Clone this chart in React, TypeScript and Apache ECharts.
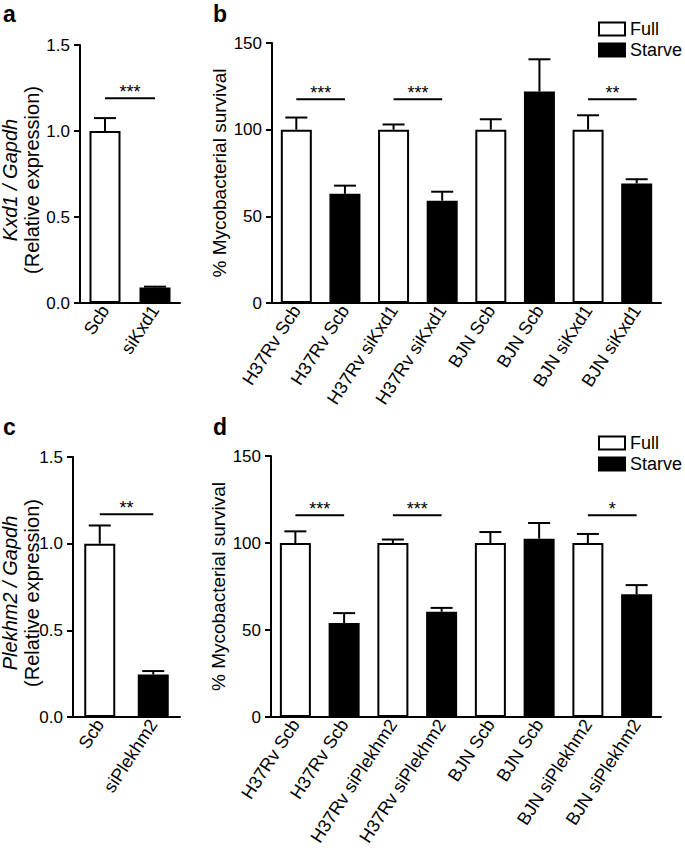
import React, { useEffect, useRef } from "react";
import * as echarts from "echarts";

const FONT = '"Liberation Sans", Arial, Helvetica, sans-serif';

// Panel a: Kxd1 knockdown
const aCategories = ["Scb", "siKxd1"];
const aMeans = [1.0, 0.09];
const aErrors = [0.075, 0.005];
const aFills = ["#ffffff", "#000000"];
const aSig = [[0, 1, 1.19]];
const aSigLabels = ["***"];

// Panel c: Plekhm2 knockdown
const cCategories = ["Scb", "siPlekhm2"];
const cMeans = [1.0, 0.245];
const cErrors = [0.105, 0.02];
const cFills = ["#ffffff", "#000000"];
const cSig = [[0, 1, 1.17]];
const cSigLabels = ["**"];

const expressionTicks = [0, 0.5, 1.0, 1.5];

// Panel b: survival, Kxd1
const bCategories = [
  "H37Rv Scb", "H37Rv Scb", "H37Rv siKxd1", "H37Rv siKxd1",
  "BJN Scb", "BJN Scb", "BJN siKxd1", "BJN siKxd1",
];
const bFull = [100, null, 100, null, 100, null, 100, null];
const bStarve = [null, 63, null, 59, null, 122, null, 69];
const bErrors = [7, 4.7, 3, 5.2, 6, 18.6, 8.3, 2.4];
const bSig = [[0, 1, 117.5], [2, 3, 117.5], [6, 7, 117.5]];
const bSigLabels = ["***", "***", "**"];

// Panel d: survival, Plekhm2
const dCategories = [
  "H37Rv Scb", "H37Rv Scb", "H37Rv siPlekhm2", "H37Rv siPlekhm2",
  "BJN Scb", "BJN Scb", "BJN siPlekhm2", "BJN siPlekhm2",
];
const dFull = [100, null, 100, null, 100, null, 100, null];
const dStarve = [null, 54, null, 60.5, null, 102.5, null, 70.5];
const dErrors = [6.7, 5.7, 2, 2.2, 6.3, 9, 5.2, 5.3];
const dSig = [[0, 1, 116], [2, 3, 116], [6, 7, 116]];
const dSigLabels = ["***", "***", "*"];

const survivalTicks = [0, 50, 100, 150];

const legendNames = ["Full", "Starve"];

function errorSeries(idx: number, means: (number | null)[], errs: number[]) {
  return {
    type: "custom",
    xAxisIndex: idx,
    yAxisIndex: idx,
    z: 5,
    silent: true,
    data: means.map((m, i) => [i, m as number, errs[i]]),
    encode: { x: 0, y: 1 },
    renderItem: (params: any, api: any) => {
      const x = api.value(0);
      const m = api.value(1);
      const e = api.value(2);
      const base = api.coord([x, m]);
      const top = api.coord([x, m + e]);
      return {
        type: "group",
        children: [
          { type: "line", shape: { x1: base[0], y1: base[1], x2: top[0], y2: top[1] }, style: { stroke: "#000", lineWidth: 2 } },
          { type: "line", shape: { x1: top[0] - 11, y1: top[1], x2: top[0] + 11, y2: top[1] }, style: { stroke: "#000", lineWidth: 2 } },
        ],
      };
    },
  };
}

function sigSeries(idx: number, sig: number[][], labels: string[]) {
  return {
    type: "custom",
    xAxisIndex: idx,
    yAxisIndex: idx,
    z: 6,
    silent: true,
    data: sig,
    encode: { x: [0, 1], y: 2 },
    renderItem: (params: any, api: any) => {
      const p1 = api.coord([api.value(0), api.value(2)]);
      const p2 = api.coord([api.value(1), api.value(2)]);
      return {
        type: "group",
        children: [
          { type: "line", shape: { x1: p1[0], y1: p1[1], x2: p2[0], y2: p2[1] }, style: { stroke: "#000", lineWidth: 2 } },
          {
            type: "text",
            x: (p1[0] + p2[0]) / 2,
            y: p1[1] - 6,
            style: { text: labels[params.dataIndex], fill: "#000", fontSize: 18, fontFamily: FONT, align: "center", verticalAlign: "middle" },
          },
        ],
      };
    },
  };
}

function xAxisCfg(idx: number, cats: string[]) {
  return {
    type: "category",
    gridIndex: idx,
    data: cats,
    axisLine: { lineStyle: { color: "#000", width: 2 } },
    axisTick: { alignWithLabel: true, length: 7, lineStyle: { color: "#000", width: 2 } },
    axisLabel: { rotate: 57, interval: 0, margin: 4, color: "#000", fontSize: 18, fontFamily: FONT },
  };
}

function yAxisCfg(idx: number, ticks: number[], decimals: number, name: string, gap: number, fontSize: number, pad: number[]) {
  return {
    type: "value",
    gridIndex: idx,
    min: ticks[0],
    max: ticks[ticks.length - 1],
    interval: ticks[1] - ticks[0],
    name,
    nameLocation: "middle",
    nameGap: gap,
    nameRotate: 90,
    nameMoveOverlap: false,
    nameTextStyle: {
      color: "#000",
      fontSize,
      fontFamily: FONT,
      lineHeight: 22,
      padding: pad,
      rich: { i: { fontStyle: "italic", fontSize, fontFamily: FONT, color: "#000", lineHeight: 22 } },
    },
    axisLine: { show: true, lineStyle: { color: "#000", width: 2 } },
    axisTick: { show: true, length: 6, lineStyle: { color: "#000", width: 2 } },
    splitLine: { show: false },
    axisLabel: { margin: 10, color: "#000", fontSize: 17, fontFamily: FONT, formatter: (v: number) => v.toFixed(decimals) },
  };
}

function simpleBars(idx: number, name: string, means: number[], fills: string[]) {
  return {
    type: "bar",
    name,
    xAxisIndex: idx,
    yAxisIndex: idx,
    barWidth: 31,
    data: means.map((m, i) => ({ value: m, itemStyle: { color: fills[i], borderColor: "#000", borderWidth: 2 } })),
  };
}

function groupBars(idx: number, full: (number | null)[], starve: (number | null)[]) {
  return [
    {
      type: "bar",
      name: legendNames[0],
      xAxisIndex: idx,
      yAxisIndex: idx,
      barWidth: 31,
      barGap: "-100%",
      itemStyle: { color: "#ffffff", borderColor: "#000", borderWidth: 2 },
      data: full.map((v) => (v === null ? "-" : v)),
    },
    {
      type: "bar",
      name: legendNames[1],
      xAxisIndex: idx,
      yAxisIndex: idx,
      barWidth: 31,
      barGap: "-100%",
      itemStyle: { color: "#000000", borderColor: "#000", borderWidth: 2 },
      data: starve.map((v) => (v === null ? "-" : v)),
    },
  ];
}

function merge(a: (number | null)[], b: (number | null)[]) {
  return a.map((v, i) => (v === null ? b[i] : v));
}

function legendCfg(top: number) {
  return {
    data: legendNames,
    orient: "vertical",
    left: 598,
    top,
    padding: 0,
    itemWidth: 26,
    itemHeight: 13,
    itemGap: 3,
    icon: "rect",
    selectedMode: false,
    textStyle: { color: "#000", fontSize: 18, fontFamily: FONT },
  };
}

function panelLetter(text: string, x: number, y: number) {
  return {
    type: "text",
    x,
    y,
    style: { text, fill: "#000", fontSize: 23, fontWeight: "bold", fontFamily: FONT, align: "left", verticalAlign: "middle" },
  };
}

export default function App() {
  const ref = useRef<HTMLDivElement>(null);
  useEffect(() => {
    document.body.style.margin = "0";
    if (!ref.current) return;
    const chart = echarts.init(ref.current, undefined, { renderer: "svg" });
    const option: any = {
      animation: false,
      backgroundColor: "#ffffff",
      textStyle: { fontFamily: FONT },
      grid: [
        { left: 80, top: 45, width: 100, height: 258, outerBoundsMode: "none" },
        { left: 272, top: 43, width: 389, height: 260, outerBoundsMode: "none" },
        { left: 73, top: 457, width: 107, height: 260, outerBoundsMode: "none" },
        { left: 271, top: 456, width: 390, height: 261, outerBoundsMode: "none" },
      ],
      xAxis: [
        xAxisCfg(0, aCategories),
        xAxisCfg(1, bCategories),
        xAxisCfg(2, cCategories),
        xAxisCfg(3, dCategories),
      ],
      yAxis: [
        yAxisCfg(0, expressionTicks, 1, "{i|Kxd1 / Gapdh}\n(Relative expression)", 37, 20, [0, 12, 0, 0]),
        yAxisCfg(1, survivalTicks, 0, "% Mycobacterial survival", 42, 19, [0, 0, 0, 0]),
        yAxisCfg(2, expressionTicks, 1, "{i|Plekhm2 / Gapdh}\n(Relative expression)", 30, 20, [0, 12, 0, 0]),
        yAxisCfg(3, survivalTicks, 0, "% Mycobacterial survival", 42, 19, [0, 0, 0, 0]),
      ],
      legend: [legendCfg(20), legendCfg(434)],
      graphic: [
        panelLetter("a", 3, 14),
        panelLetter("b", 213, 14),
        panelLetter("c", 3, 427),
        panelLetter("d", 213, 427),
      ],
      series: [
        simpleBars(0, "Kxd1", aMeans, aFills),
        errorSeries(0, aMeans, aErrors),
        sigSeries(0, aSig, aSigLabels),
        ...groupBars(1, bFull, bStarve),
        errorSeries(1, merge(bFull, bStarve), bErrors),
        sigSeries(1, bSig, bSigLabels),
        simpleBars(2, "Plekhm2", cMeans, cFills),
        errorSeries(2, cMeans, cErrors),
        sigSeries(2, cSig, cSigLabels),
        ...groupBars(3, dFull, dStarve),
        errorSeries(3, merge(dFull, dStarve), dErrors),
        sigSeries(3, dSig, dSigLabels),
      ],
    };
    chart.setOption(option);
    return () => chart.dispose();
  }, []);
  return <div ref={ref} style={{ width: 685, height: 851 }} />;
}
